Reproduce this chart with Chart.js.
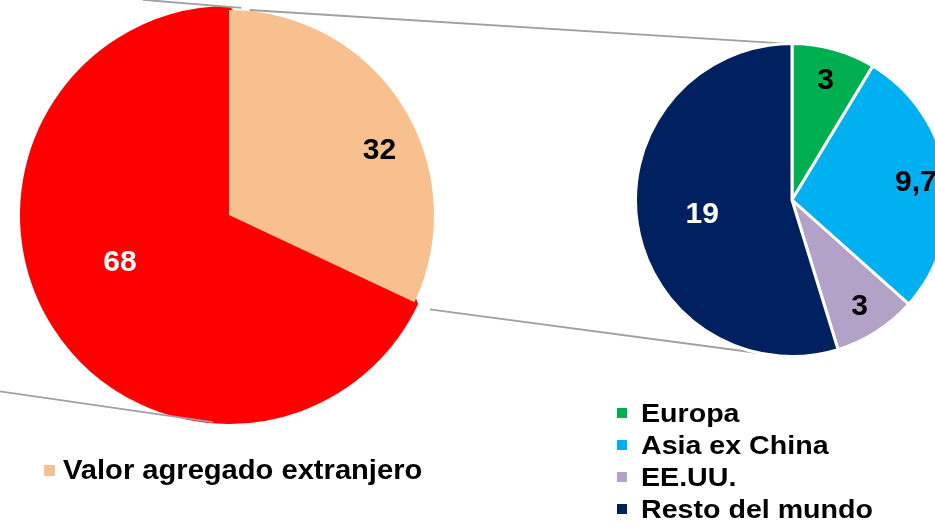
<!DOCTYPE html>
<html lang="es">
<head>
<meta charset="utf-8">
<title>Valor agregado extranjero</title>
<script src="https://cdn.jsdelivr.net/npm/chart.js@4.4.1/dist/chart.umd.min.js"></script>
<style>
  html, body { margin: 0; padding: 0; background: #fff; overflow: hidden; }
  #stage {
    position: relative;
    width: 935px;
    height: 526px;
    overflow: hidden;
    font-family: "Liberation Sans", Arial, sans-serif;
    font-weight: bold;
    color: #000;
  }
  #box-main { position: absolute; left: 0; top: 0; width: 935px; height: 526px; }
  #box-split { position: absolute; left: 634px; top: 42px; width: 316px; height: 316px; }
  .legend { position: absolute; margin: 0; padding: 0; list-style: none; }
  .legend li { display: flex; align-items: center; white-space: nowrap; height: 32px; line-height: 32px; }
  .legend .sw { display: inline-block; flex: none; }
  .legend .txt { display: inline-block; transform-origin: left center; }
  #legend-main { left: 44px; top: 454px; font-size: 28px; }
  #legend-main .sw { width: 11px; height: 11px; margin-right: 8px; }
  #legend-main .txt { transform: scaleX(1.04); }
  #legend-split { left: 617px; top: 397px; font-size: 26px; }
  #legend-split .sw { width: 10px; height: 10px; margin-right: 14px; }
  #legend-split .txt { transform: scaleX(1.1); }
</style>
</head>
<body>
<div id="stage">
  <div id="box-main"><canvas id="main-chart"></canvas></div>
  <div id="box-split"><canvas id="split-chart"></canvas></div>
  <ul class="legend" id="legend-main"></ul>
  <ul class="legend" id="legend-split"></ul>
</div>
<script>
// Left pie: domestic vs foreign value added
const mainLabels = ["Valor agregado doméstico", "Valor agregado extranjero"];
const mainValues = [68, 32];
const mainColors = ["#FF0000", "#F9C08F"];
const mainTextColors = ["#FFFFFF", "#000000"];
const mainLegendItems = [1]; // only the foreign slice is in the legend

// Right pie: where the foreign value added comes from
const splitLabels = ["Europa", "Asia ex China", "EE.UU.", "Resto del mundo"];
const splitValues = [3, 9.7, 3, 19];
const splitColors = ["#00B050", "#00B0F0", "#B3A2C7", "#012060"];
const splitTextColors = ["#000000", "#000000", "#000000", "#FFFFFF"];

const fmt = (v) => String(v).replace(".", ",");

// value labels inside the slices
const valueLabels = {
  id: "valueLabels",
  afterDatasetsDraw(chart, args, opts) {
    const { ctx } = chart;
    const values = chart.data.datasets[0].data;
    const total = values.reduce((a, b) => a + b, 0);
    const shift = ((opts.shift || 0) * Math.PI) / 180;
    ctx.save();
    ctx.font = "bold 30px 'Liberation Sans', Arial, sans-serif";
    ctx.textAlign = "center";
    ctx.textBaseline = "middle";
    chart.getDatasetMeta(0).data.forEach((arc, i) => {
      const p = arc.getProps(["x", "y", "startAngle", "endAngle", "outerRadius"], true);
      const mid = (p.startAngle + p.endAngle) / 2 + shift;
      const r = p.outerRadius * (values[i] / total < 0.4 ? 0.8 : 0.58);
      ctx.fillStyle = opts.colors[i];
      ctx.fillText(fmt(values[i]), p.x + Math.cos(mid) * r, p.y + Math.sin(mid) * r + 1);
    });
    ctx.restore();
  },
};

// the right pie goes first so the left one can read its geometry
const splitChart = new Chart(document.getElementById("split-chart"), {
  type: "pie",
  data: {
    labels: splitLabels,
    datasets: [
      {
        data: splitValues,
        backgroundColor: splitColors,
        borderColor: "#FFFFFF",
        borderWidth: 3,
      },
    ],
  },
  options: {
    responsive: true,
    maintainAspectRatio: false,
    animation: false,
    events: [],
    layout: { padding: 0 },
    plugins: {
      legend: { display: false },
      tooltip: { enabled: false },
      valueLabels: { colors: splitTextColors, shift: 0 },
    },
  },
  plugins: [valueLabels],
});

// grey series lines between the two pies
const seriesLines = {
  id: "seriesLines",
  afterDatasetsDraw(chart) {
    const a = chart.getDatasetMeta(0).data[0];
    const b = splitChart.getDatasetMeta(0).data[0];
    const box = splitChart.canvas.parentNode;
    const c1 = { x: a.x, y: a.y, r: a.outerRadius };
    const c2 = { x: box.offsetLeft + b.x, y: box.offsetTop + b.y, r: b.outerRadius };
    const at = (c, fx, fy) => [c.x + fx * c.r, c.y + fy * c.r];
    const segs = [
      [at(c1, -0.42, -1.05), at(c1, 0.06, -1.01)],
      [at(c1, 0.1, -1.0), at(c2, 0.19, -0.985)],
      [at(c1, -1.12, 0.86), at(c1, -0.08, 1.01)],
      [at(c1, 0.98, 0.46), at(c2, -0.05, 1.0)],
    ];
    const { ctx } = chart;
    ctx.save();
    ctx.strokeStyle = "#A0A0A0";
    ctx.lineWidth = 1.8;
    segs.forEach(([p, q]) => {
      ctx.beginPath();
      ctx.moveTo(p[0], p[1]);
      ctx.lineTo(q[0], q[1]);
      ctx.stroke();
    });
    ctx.restore();
  },
};

const mainTotal = mainValues.reduce((a, b) => a + b, 0);

new Chart(document.getElementById("main-chart"), {
  type: "pie",
  data: {
    labels: mainLabels,
    datasets: [
      {
        data: mainValues,
        backgroundColor: mainColors,
        borderColor: mainColors,
        borderWidth: [8, 0], // red slice sits a little proud of the peach one
      },
    ],
  },
  options: {
    responsive: true,
    maintainAspectRatio: false,
    animation: false,
    events: [],
    // peach slice starts at 12 o'clock, red fills the rest
    rotation: (mainValues[1] / mainTotal) * 360,
    layout: { padding: { left: 20, top: 6, right: 497, bottom: 102 } },
    plugins: {
      legend: { display: false },
      tooltip: { enabled: false },
      valueLabels: { colors: mainTextColors, shift: 9 },
    },
  },
  plugins: [seriesLines, valueLabels],
});

// html legends
function buildLegend(el, labels, colors, items) {
  items.forEach((i) => {
    const li = document.createElement("li");
    const sw = document.createElement("span");
    sw.className = "sw";
    sw.style.background = colors[i];
    const txt = document.createElement("span");
    txt.className = "txt";
    txt.textContent = labels[i];
    li.append(sw, txt);
    el.appendChild(li);
  });
}

buildLegend(document.getElementById("legend-main"), mainLabels, mainColors, mainLegendItems);
buildLegend(
  document.getElementById("legend-split"),
  splitLabels,
  splitColors,
  splitLabels.map((_, i) => i)
);
</script>
</body>
</html>
